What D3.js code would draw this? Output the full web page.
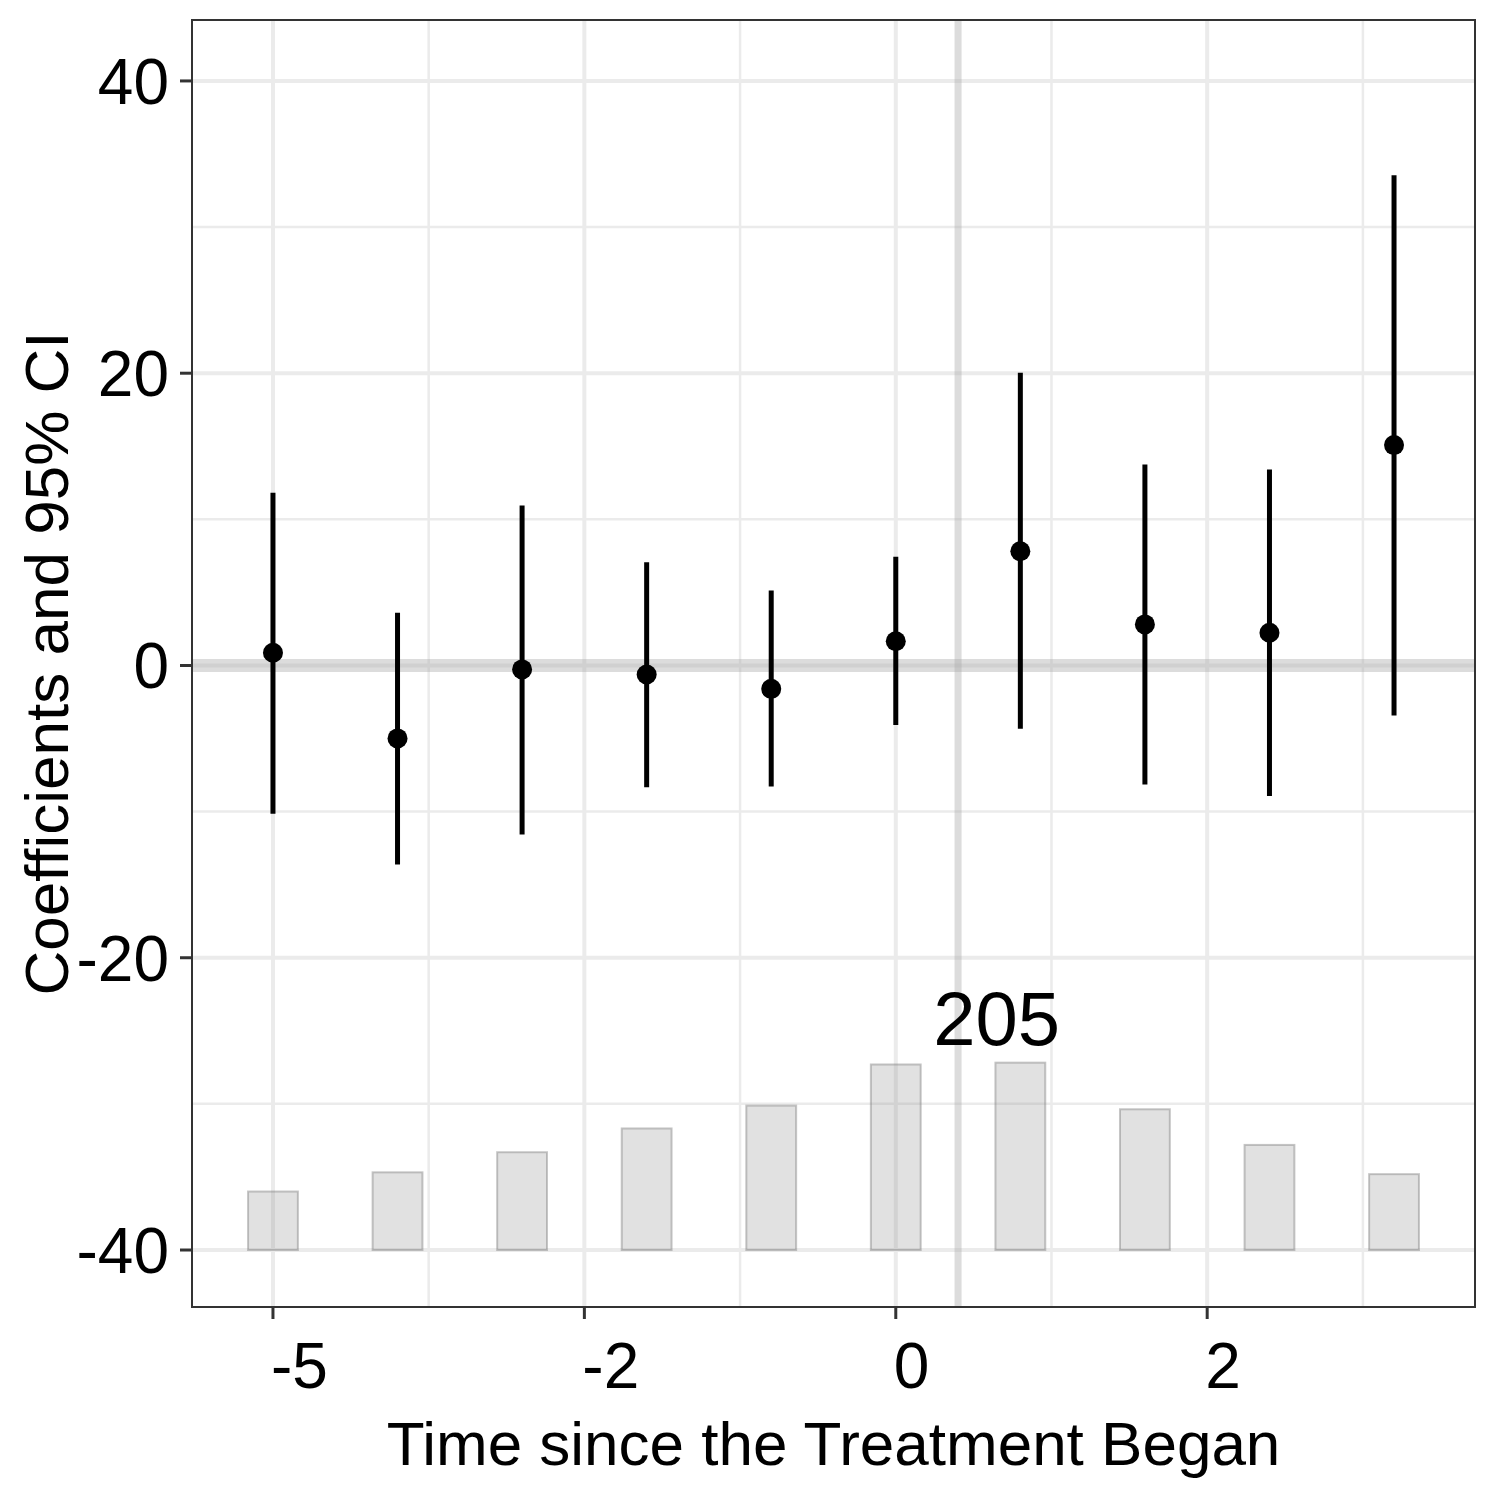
<!DOCTYPE html>
<html>
<head>
<meta charset="utf-8">
<script src="https://cdn.jsdelivr.net/npm/d3@7"></script>
<style>
  html, body { margin: 0; padding: 0; background: #ffffff; }
  text { font-family: "Liberation Sans", Arial, sans-serif; }
</style>
</head>
<body>
<svg id="chart" width="1500" height="1500"></svg>
<script>
// ---- data ----
const periods   = [-5, -4, -3, -2, -1, 0, 1, 2, 3, 4];
const estimates = [0.87, -4.99, -0.27, -0.62, -1.6, 1.66, 7.82, 2.81, 2.24, 15.08];
const ciLower   = [-10.15, -13.62, -11.57, -8.33, -8.28, -4.08, -4.33, -8.14, -8.94, -3.42];
const ciUpper   = [11.82, 3.6, 10.95, 7.07, 5.13, 7.44, 20.03, 13.76, 13.41, 33.55];
const counts    = [64, 85, 107, 133, 158, 203, 205, 154, 115, 83];
const xTickValues = [-5, -2.5, 0, 2.5];
const xTickLabels = ["-5", "-2", "0", "2"];
const xMinorValues = [-3.75, -1.25, 1.25, 3.75];
const yTickValues = [-40, -20, 0, 20, 40];
const yTickLabels = ["-40", "-20", "0", "20", "40"];
const yMinorValues = [-30, -10, 10, 30];
const xLabel = "Time since the Treatment Began";
const yLabel = "Coefficients and 95% CI";
const treatStart = 0.5;
const barBase = -40;
const barMaxUnits = 12.82;
const barWidth = 0.4;

// ---- layout ----
const panel = { left: 192, right: 1475, top: 20, bottom: 1307 };
const svg = d3.select("#chart");
svg.append("rect").attr("width", 1500).attr("height", 1500).attr("fill", "#ffffff");

const x = d3.scaleLinear().domain([-5.65, 4.65]).range([panel.left, panel.right]);
const y = d3.scaleLinear().domain([-43.9, 44.17]).range([panel.bottom, panel.top]);
const maxCount = d3.max(counts);
const barH = d3.scaleLinear().domain([0, maxCount]).range([0, barMaxUnits]);

const g = svg.append("g");

// grid
g.selectAll(".yminor").data(yMinorValues).enter().append("line")
  .attr("x1", panel.left).attr("x2", panel.right)
  .attr("y1", d => y(d)).attr("y2", d => y(d))
  .attr("stroke", "#ebebeb").attr("stroke-width", 2.5);
g.selectAll(".xminor").data(xMinorValues).enter().append("line")
  .attr("y1", panel.top).attr("y2", panel.bottom)
  .attr("x1", d => x(d)).attr("x2", d => x(d))
  .attr("stroke", "#ebebeb").attr("stroke-width", 2.5);
g.selectAll(".ymajor").data(yTickValues).enter().append("line")
  .attr("x1", panel.left).attr("x2", panel.right)
  .attr("y1", d => y(d)).attr("y2", d => y(d))
  .attr("stroke", "#ebebeb").attr("stroke-width", 4);
g.selectAll(".xmajor").data(xTickValues).enter().append("line")
  .attr("y1", panel.top).attr("y2", panel.bottom)
  .attr("x1", d => x(d)).attr("x2", d => x(d))
  .attr("stroke", "#ebebeb").attr("stroke-width", 4);

// reference lines
g.append("line")
  .attr("x1", panel.left).attr("x2", panel.right)
  .attr("y1", y(0)).attr("y2", y(0))
  .attr("stroke", "#a8a8a8").attr("stroke-opacity", 0.4).attr("stroke-width", 13);
g.append("line")
  .attr("x1", x(treatStart)).attr("x2", x(treatStart))
  .attr("y1", panel.top).attr("y2", panel.bottom)
  .attr("stroke", "#a8a8a8").attr("stroke-opacity", 0.4).attr("stroke-width", 7);

// bars
g.selectAll(".bar").data(periods).enter().append("rect")
  .attr("x", d => x(d - barWidth / 2))
  .attr("width", d => x(d + barWidth / 2) - x(d - barWidth / 2))
  .attr("y", (d, i) => y(barBase + barH(counts[i])))
  .attr("height", (d, i) => y(barBase) - y(barBase + barH(counts[i])))
  .attr("fill", "#808080").attr("fill-opacity", 0.24)
  .attr("stroke", "#808080").attr("stroke-opacity", 0.45).attr("stroke-width", 2);

// count label over the largest bar
const iMax = counts.indexOf(maxCount);
g.append("text")
  .attr("x", x(periods[iMax] - 0.19))
  .attr("y", y(barBase + barH(maxCount)) - 18)
  .attr("text-anchor", "middle")
  .attr("font-size", 76)
  .attr("fill", "#000")
  .text(String(maxCount));

// CIs
g.selectAll(".ci").data(periods).enter().append("line")
  .attr("x1", d => x(d)).attr("x2", d => x(d))
  .attr("y1", (d, i) => y(ciLower[i])).attr("y2", (d, i) => y(ciUpper[i]))
  .attr("stroke", "#000").attr("stroke-width", 5);
// points
g.selectAll(".pt").data(periods).enter().append("circle")
  .attr("cx", d => x(d)).attr("cy", (d, i) => y(estimates[i]))
  .attr("r", 10).attr("fill", "#000");

// panel border
svg.append("rect")
  .attr("x", panel.left).attr("y", panel.top)
  .attr("width", panel.right - panel.left).attr("height", panel.bottom - panel.top)
  .attr("fill", "none").attr("stroke", "#333333").attr("stroke-width", 2);

// axes ticks
svg.selectAll(".xt").data(xTickValues).enter().append("line")
  .attr("x1", d => x(d)).attr("x2", d => x(d))
  .attr("y1", panel.bottom).attr("y2", panel.bottom + 12)
  .attr("stroke", "#333333").attr("stroke-width", 3);
svg.selectAll(".yt").data(yTickValues).enter().append("line")
  .attr("x1", panel.left - 12).attr("x2", panel.left)
  .attr("y1", d => y(d)).attr("y2", d => y(d))
  .attr("stroke", "#333333").attr("stroke-width", 3);

// tick labels
svg.selectAll(".xl").data(xTickValues).enter().append("text")
  .attr("x", d => x(d) - 2)
  .attr("y", 1388)
  .attr("text-anchor", "start")
  .attr("font-size", 64).attr("fill", "#000")
  .text((d, i) => xTickLabels[i]);
svg.selectAll(".yl").data(yTickValues).enter().append("text")
  .attr("x", 169)
  .attr("y", d => y(d) + 23)
  .attr("text-anchor", "end")
  .attr("font-size", 64).attr("fill", "#000")
  .text((d, i) => yTickLabels[i]);

// axis titles
svg.append("text")
  .attr("x", (panel.left + panel.right) / 2).attr("y", 1465)
  .attr("text-anchor", "middle").attr("font-size", 62).attr("fill", "#000")
  .text(xLabel);
svg.append("text")
  .attr("transform", `translate(68, ${(panel.top + panel.bottom) / 2}) rotate(-90)`)
  .attr("text-anchor", "middle").attr("font-size", 62).attr("fill", "#000")
  .text(yLabel);
</script>
</body>
</html>
